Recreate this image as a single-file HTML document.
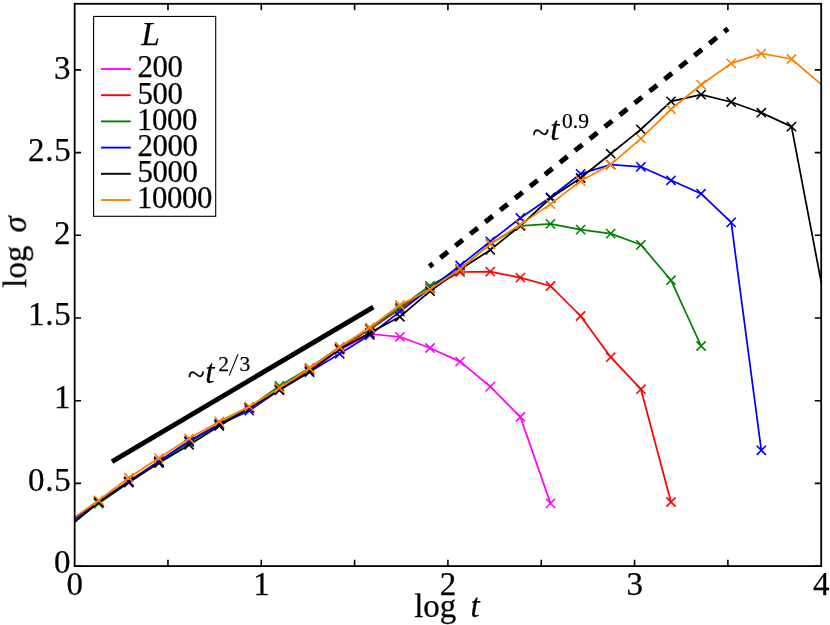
<!DOCTYPE html>
<html><head><meta charset="utf-8"><title>log sigma vs log t</title>
<style>
html,body{margin:0;padding:0;background:#fff;}
body{width:830px;height:625px;overflow:hidden;font-family:"Liberation Serif",serif;}
svg{display:block;}
</style></head><body>
<svg width="830" height="625" viewBox="0 0 830 625">
<defs><clipPath id="ax"><rect x="74.65" y="3.80" width="746.55" height="562.30"/></clipPath></defs>
<rect x="0" y="0" width="830" height="625" fill="#ffffff"/>
<g clip-path="url(#ax)" fill="none" stroke-linejoin="round">
<polyline stroke="#ff00ff" stroke-width="1.75" points="68.6,522.0 98.7,501.5 128.8,481.5 158.9,461.5 189.1,441.5 219.2,424.0 249.3,408.0 279.4,388.5 309.5,370.0 339.7,350.0 369.8,334.0 399.9,336.8 430.0,348.0 460.1,361.6 490.3,386.6 520.4,417.0 550.5,503.4"/>
<path stroke="#ff00ff" stroke-width="1.60" d="M94.1 496.9L103.3 506.1M94.1 506.1L103.3 496.9M124.2 476.9L133.4 486.1M124.2 486.1L133.4 476.9M154.3 456.9L163.5 466.1M154.3 466.1L163.5 456.9M184.5 436.9L193.7 446.1M184.5 446.1L193.7 436.9M214.6 419.4L223.8 428.6M214.6 428.6L223.8 419.4M244.7 403.4L253.9 412.6M244.7 412.6L253.9 403.4M274.8 383.9L284.0 393.1M274.8 393.1L284.0 383.9M304.9 365.4L314.1 374.6M304.9 374.6L314.1 365.4M335.1 345.4L344.3 354.6M335.1 354.6L344.3 345.4M365.2 329.4L374.4 338.6M365.2 338.6L374.4 329.4M395.3 332.2L404.5 341.4M395.3 341.4L404.5 332.2M425.4 343.4L434.6 352.6M425.4 352.6L434.6 343.4M455.5 357.0L464.7 366.2M455.5 366.2L464.7 357.0M485.7 382.0L494.9 391.2M485.7 391.2L494.9 382.0M515.8 412.4L525.0 421.6M515.8 421.6L525.0 412.4M545.9 498.8L555.1 508.0M545.9 508.0L555.1 498.8"/>
<polyline stroke="#ff0000" stroke-width="1.75" points="68.6,522.0 98.7,501.5 128.8,481.3 158.9,461.3 189.1,441.3 219.2,423.8 249.3,407.8 279.4,388.0 309.5,369.5 339.7,348.5 369.8,329.5 399.9,309.0 430.0,288.5 460.1,272.0 490.3,271.6 520.4,277.6 550.5,286.0 580.6,316.0 610.7,357.2 640.9,389.2 671.0,502.0"/>
<path stroke="#ff0000" stroke-width="1.60" d="M94.1 496.9L103.3 506.1M94.1 506.1L103.3 496.9M124.2 476.7L133.4 485.9M124.2 485.9L133.4 476.7M154.3 456.7L163.5 465.9M154.3 465.9L163.5 456.7M184.5 436.7L193.7 445.9M184.5 445.9L193.7 436.7M214.6 419.2L223.8 428.4M214.6 428.4L223.8 419.2M244.7 403.2L253.9 412.4M244.7 412.4L253.9 403.2M274.8 383.4L284.0 392.6M274.8 392.6L284.0 383.4M304.9 364.9L314.1 374.1M304.9 374.1L314.1 364.9M335.1 343.9L344.3 353.1M335.1 353.1L344.3 343.9M365.2 324.9L374.4 334.1M365.2 334.1L374.4 324.9M395.3 304.4L404.5 313.6M395.3 313.6L404.5 304.4M425.4 283.9L434.6 293.1M425.4 293.1L434.6 283.9M455.5 267.4L464.7 276.6M455.5 276.6L464.7 267.4M485.7 267.0L494.9 276.2M485.7 276.2L494.9 267.0M515.8 273.0L525.0 282.2M515.8 282.2L525.0 273.0M545.9 281.4L555.1 290.6M545.9 290.6L555.1 281.4M576.0 311.4L585.2 320.6M576.0 320.6L585.2 311.4M606.1 352.6L615.3 361.8M606.1 361.8L615.3 352.6M636.3 384.6L645.5 393.8M636.3 393.8L645.5 384.6M666.4 497.4L675.6 506.6M666.4 506.6L675.6 497.4"/>
<polyline stroke="#008000" stroke-width="1.75" points="68.6,524.0 98.7,503.5 128.8,482.5 158.9,462.5 189.1,442.5 219.2,424.5 249.3,407.5 279.4,386.0 309.5,368.0 339.7,347.0 369.8,328.5 399.9,307.5 430.0,285.8 460.1,269.0 490.3,243.9 520.4,225.8 550.5,223.9 580.6,229.6 610.7,233.6 640.9,244.8 671.0,280.2 701.1,346.0"/>
<path stroke="#008000" stroke-width="1.60" d="M94.1 498.9L103.3 508.1M94.1 508.1L103.3 498.9M124.2 477.9L133.4 487.1M124.2 487.1L133.4 477.9M154.3 457.9L163.5 467.1M154.3 467.1L163.5 457.9M184.5 437.9L193.7 447.1M184.5 447.1L193.7 437.9M214.6 419.9L223.8 429.1M214.6 429.1L223.8 419.9M244.7 402.9L253.9 412.1M244.7 412.1L253.9 402.9M274.8 381.4L284.0 390.6M274.8 390.6L284.0 381.4M304.9 363.4L314.1 372.6M304.9 372.6L314.1 363.4M335.1 342.4L344.3 351.6M335.1 351.6L344.3 342.4M365.2 323.9L374.4 333.1M365.2 333.1L374.4 323.9M395.3 302.9L404.5 312.1M395.3 312.1L404.5 302.9M425.4 281.2L434.6 290.4M425.4 290.4L434.6 281.2M455.5 264.4L464.7 273.6M455.5 273.6L464.7 264.4M485.7 239.3L494.9 248.5M485.7 248.5L494.9 239.3M515.8 221.2L525.0 230.4M515.8 230.4L525.0 221.2M545.9 219.3L555.1 228.5M545.9 228.5L555.1 219.3M576.0 225.0L585.2 234.2M576.0 234.2L585.2 225.0M606.1 229.0L615.3 238.2M606.1 238.2L615.3 229.0M636.3 240.2L645.5 249.4M636.3 249.4L645.5 240.2M666.4 275.6L675.6 284.8M666.4 284.8L675.6 275.6M696.5 341.4L705.7 350.6M696.5 350.6L705.7 341.4"/>
<polyline stroke="#0000ff" stroke-width="1.75" points="68.6,523.0 98.7,502.0 128.8,481.5 158.9,461.5 189.1,441.0 219.2,424.4 249.3,410.7 279.4,390.0 309.5,372.0 339.7,353.8 369.8,335.0 399.9,311.6 430.0,288.4 460.1,265.5 490.3,241.4 520.4,218.0 550.5,197.3 580.6,173.8 610.7,164.6 640.9,166.8 671.0,180.3 701.1,193.7 731.2,222.4 761.3,450.3"/>
<path stroke="#0000ff" stroke-width="1.60" d="M94.1 497.4L103.3 506.6M94.1 506.6L103.3 497.4M124.2 476.9L133.4 486.1M124.2 486.1L133.4 476.9M154.3 456.9L163.5 466.1M154.3 466.1L163.5 456.9M184.5 436.4L193.7 445.6M184.5 445.6L193.7 436.4M214.6 419.8L223.8 429.0M214.6 429.0L223.8 419.8M244.7 406.1L253.9 415.3M244.7 415.3L253.9 406.1M274.8 385.4L284.0 394.6M274.8 394.6L284.0 385.4M304.9 367.4L314.1 376.6M304.9 376.6L314.1 367.4M335.1 349.2L344.3 358.4M335.1 358.4L344.3 349.2M365.2 330.4L374.4 339.6M365.2 339.6L374.4 330.4M395.3 307.0L404.5 316.2M395.3 316.2L404.5 307.0M425.4 283.8L434.6 293.0M425.4 293.0L434.6 283.8M455.5 260.9L464.7 270.1M455.5 270.1L464.7 260.9M485.7 236.8L494.9 246.0M485.7 246.0L494.9 236.8M515.8 213.4L525.0 222.6M515.8 222.6L525.0 213.4M545.9 192.7L555.1 201.9M545.9 201.9L555.1 192.7M576.0 169.2L585.2 178.4M576.0 178.4L585.2 169.2M606.1 160.0L615.3 169.2M606.1 169.2L615.3 160.0M636.3 162.2L645.5 171.4M636.3 171.4L645.5 162.2M666.4 175.7L675.6 184.9M666.4 184.9L675.6 175.7M696.5 189.1L705.7 198.3M696.5 198.3L705.7 189.1M726.6 217.8L735.8 227.0M726.6 227.0L735.8 217.8M756.7 445.7L765.9 454.9M756.7 454.9L765.9 445.7"/>
<polyline stroke="#000000" stroke-width="1.75" points="68.6,527.0 98.7,502.4 128.8,482.3 158.9,463.0 189.1,444.9 219.2,425.9 249.3,408.0 279.4,390.0 309.5,371.9 339.7,349.0 369.8,333.0 399.9,316.8 430.0,291.2 460.1,269.6 490.3,249.9 520.4,225.8 550.5,198.0 580.6,178.0 610.7,153.7 640.9,129.4 671.0,101.4 701.1,94.6 731.2,102.0 761.3,112.7 791.5,126.6 821.6,284.2"/>
<path stroke="#000000" stroke-width="1.60" d="M94.1 497.8L103.3 507.0M94.1 507.0L103.3 497.8M124.2 477.7L133.4 486.9M124.2 486.9L133.4 477.7M154.3 458.4L163.5 467.6M154.3 467.6L163.5 458.4M184.5 440.3L193.7 449.5M184.5 449.5L193.7 440.3M214.6 421.3L223.8 430.5M214.6 430.5L223.8 421.3M244.7 403.4L253.9 412.6M244.7 412.6L253.9 403.4M274.8 385.4L284.0 394.6M274.8 394.6L284.0 385.4M304.9 367.3L314.1 376.5M304.9 376.5L314.1 367.3M335.1 344.4L344.3 353.6M335.1 353.6L344.3 344.4M365.2 328.4L374.4 337.6M365.2 337.6L374.4 328.4M395.3 312.2L404.5 321.4M395.3 321.4L404.5 312.2M425.4 286.6L434.6 295.8M425.4 295.8L434.6 286.6M455.5 265.0L464.7 274.2M455.5 274.2L464.7 265.0M485.7 245.3L494.9 254.5M485.7 254.5L494.9 245.3M515.8 221.2L525.0 230.4M515.8 230.4L525.0 221.2M545.9 193.4L555.1 202.6M545.9 202.6L555.1 193.4M576.0 173.4L585.2 182.6M576.0 182.6L585.2 173.4M606.1 149.1L615.3 158.3M606.1 158.3L615.3 149.1M636.3 124.8L645.5 134.0M636.3 134.0L645.5 124.8M666.4 96.8L675.6 106.0M666.4 106.0L675.6 96.8M696.5 90.0L705.7 99.2M696.5 99.2L705.7 90.0M726.6 97.4L735.8 106.6M726.6 106.6L735.8 97.4M756.7 108.1L765.9 117.3M756.7 117.3L765.9 108.1M786.9 122.0L796.1 131.2M786.9 131.2L796.1 122.0"/>
<polyline stroke="#ff8000" stroke-width="1.75" points="68.6,521.5 98.7,500.3 128.8,477.7 158.9,458.1 189.1,438.5 219.2,421.4 249.3,406.6 279.4,388.0 309.5,368.3 339.7,347.0 369.8,327.5 399.9,305.0 430.0,289.2 460.1,269.2 490.3,243.9 520.4,224.6 550.5,204.1 580.6,181.0 610.7,164.6 640.9,138.6 671.0,109.3 701.1,84.8 731.2,63.4 761.3,53.6 791.5,59.0 821.6,84.7"/>
<path stroke="#ff8000" stroke-width="1.60" d="M94.1 495.7L103.3 504.9M94.1 504.9L103.3 495.7M124.2 473.1L133.4 482.3M124.2 482.3L133.4 473.1M154.3 453.5L163.5 462.7M154.3 462.7L163.5 453.5M184.5 433.9L193.7 443.1M184.5 443.1L193.7 433.9M214.6 416.8L223.8 426.0M214.6 426.0L223.8 416.8M244.7 402.0L253.9 411.2M244.7 411.2L253.9 402.0M274.8 383.4L284.0 392.6M274.8 392.6L284.0 383.4M304.9 363.7L314.1 372.9M304.9 372.9L314.1 363.7M335.1 342.4L344.3 351.6M335.1 351.6L344.3 342.4M365.2 322.9L374.4 332.1M365.2 332.1L374.4 322.9M395.3 300.4L404.5 309.6M395.3 309.6L404.5 300.4M425.4 284.6L434.6 293.8M425.4 293.8L434.6 284.6M455.5 264.6L464.7 273.8M455.5 273.8L464.7 264.6M485.7 239.3L494.9 248.5M485.7 248.5L494.9 239.3M515.8 220.0L525.0 229.2M515.8 229.2L525.0 220.0M545.9 199.5L555.1 208.7M545.9 208.7L555.1 199.5M576.0 176.4L585.2 185.6M576.0 185.6L585.2 176.4M606.1 160.0L615.3 169.2M606.1 169.2L615.3 160.0M636.3 134.0L645.5 143.2M636.3 143.2L645.5 134.0M666.4 104.7L675.6 113.9M666.4 113.9L675.6 104.7M696.5 80.2L705.7 89.4M696.5 89.4L705.7 80.2M726.6 58.8L735.8 68.0M726.6 68.0L735.8 58.8M756.7 49.0L765.9 58.2M756.7 58.2L765.9 49.0M786.9 54.4L796.1 63.6M786.9 63.6L796.1 54.4"/>
<line x1="112.0" y1="461.6" x2="373.3" y2="307.1" stroke="#000" stroke-width="4.8"/>
<line x1="429.4" y1="266.5" x2="728.0" y2="28.7" stroke="#000" stroke-width="5.0" stroke-dasharray="9.55 9.55" stroke-dashoffset="5.0"/>
</g>
<path d="M167.97 566.10v-6.4M167.97 3.80v6.4M261.29 566.10v-6.4M261.29 3.80v6.4M354.61 566.10v-6.4M354.61 3.80v6.4M447.93 566.10v-6.4M447.93 3.80v6.4M541.25 566.10v-6.4M541.25 3.80v6.4M634.57 566.10v-6.4M634.57 3.80v6.4M727.89 566.10v-6.4M727.89 3.80v6.4M74.65 566.10h6.4M821.20 566.10h-6.4M74.65 483.40h6.4M821.20 483.40h-6.4M74.65 400.70h6.4M821.20 400.70h-6.4M74.65 318.00h6.4M821.20 318.00h-6.4M74.65 235.30h6.4M821.20 235.30h-6.4M74.65 152.60h6.4M821.20 152.60h-6.4M74.65 69.90h6.4M821.20 69.90h-6.4" stroke="#000" stroke-width="1.6" fill="none"/>
<rect x="74.65" y="3.80" width="746.55" height="562.30" fill="none" stroke="#000" stroke-width="1.8"/>
<rect x="93.6" y="16.45" width="122.1" height="199.85" fill="#fff" stroke="#000" stroke-width="1.1"/>
<g opacity="0.999" font-family="'Liberation Serif', serif" font-size="31.5" fill="#000" stroke="#000" stroke-width="0.25">
<line x1="101" y1="69.0" x2="130.8" y2="69.0" stroke="#ff00ff" stroke-width="1.9"/>
<text x="137.4" y="77.3" font-size="30.8" letter-spacing="-0.4">200</text>
<line x1="101" y1="95.2" x2="130.8" y2="95.2" stroke="#ff0000" stroke-width="1.9"/>
<text x="137.4" y="103.5" font-size="30.8" letter-spacing="-0.4">500</text>
<line x1="101" y1="121.4" x2="130.8" y2="121.4" stroke="#008000" stroke-width="1.9"/>
<text x="137.0" y="129.7" font-size="30.8" letter-spacing="-0.4">1000</text>
<line x1="101" y1="147.6" x2="130.8" y2="147.6" stroke="#0000ff" stroke-width="1.9"/>
<text x="137.4" y="155.9" font-size="30.8" letter-spacing="-0.4">2000</text>
<line x1="101" y1="173.8" x2="130.8" y2="173.8" stroke="#000000" stroke-width="1.9"/>
<text x="137.4" y="182.1" font-size="30.8" letter-spacing="-0.4">5000</text>
<line x1="101" y1="200.0" x2="130.8" y2="200.0" stroke="#ff8000" stroke-width="1.9"/>
<text x="137.0" y="208.3" font-size="30.8" letter-spacing="-0.4">10000</text>
<text x="141.3" y="44.8" font-style="italic" font-size="33.4">L</text>
<text x="70.6" y="573.4" text-anchor="end" font-size="33.0">0</text>
<text x="71.4" y="490.6" text-anchor="end" font-size="33.0" letter-spacing="0.7">0.5</text>
<text x="70.6" y="408.4" text-anchor="end" font-size="33.0">1</text>
<text x="71.4" y="325.0" text-anchor="end" font-size="33.0" letter-spacing="0.7">1.5</text>
<text x="70.6" y="243.8" text-anchor="end" font-size="33.0">2</text>
<text x="71.4" y="160.5" text-anchor="end" font-size="33.0" letter-spacing="0.7">2.5</text>
<text x="70.6" y="79.0" text-anchor="end" font-size="33.0">3</text>
<text x="74.8" y="595.2" text-anchor="middle" font-size="33.0">0</text>
<text x="261.4" y="595.2" text-anchor="middle" font-size="33.0">1</text>
<text x="448.0" y="595.2" text-anchor="middle" font-size="33.0">2</text>
<text x="634.7" y="595.2" text-anchor="middle" font-size="33.0">3</text>
<text x="821.3" y="595.2" text-anchor="middle" font-size="33.0">4</text>
<text x="414.2" y="617" font-size="33.0">log</text>
<text x="470.4" y="617.2" font-style="italic" font-size="33.0">t</text>
<g transform="translate(26.1,287.8) rotate(-90)" font-size="33.0"><text x="0" y="0">log</text><text x="55.2" y="0" font-style="italic">σ</text></g>
<text x="187.8" y="385.2">~</text><text x="205.3" y="383" font-style="italic" font-size="33">t</text>
<text x="218.3" y="370.5" font-size="21.5">2</text><text x="239.4" y="370.5" font-size="21.5">3</text>
<line x1="229.2" y1="375.6" x2="238" y2="354.3" stroke="#000" stroke-width="1.1"/>
<text x="532.3" y="143">~</text><text x="550.2" y="140.2" font-style="italic" font-size="33">t</text><text x="562" y="128.2" font-size="21.5">0.9</text>
</g>
</svg>
</body></html>
